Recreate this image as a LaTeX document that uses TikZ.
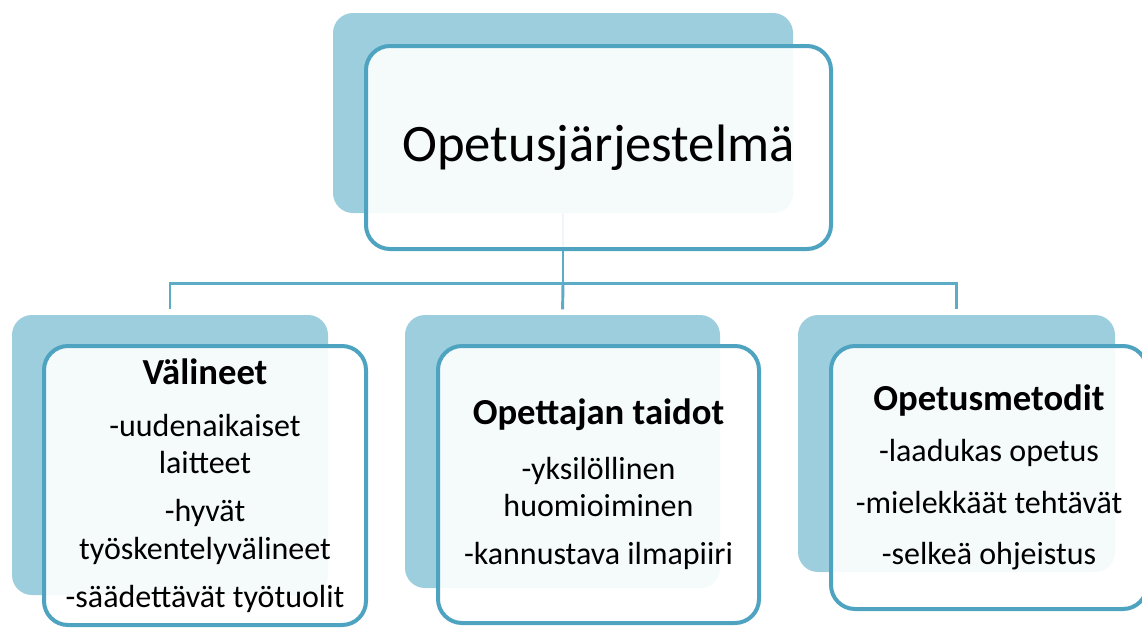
\documentclass[tikz,border=0pt]{standalone}
\usepackage{fontspec}
\setmainfont{Carlito}
\usepackage{tikz}

\definecolor{boxline}{RGB}{78,164,192}
\definecolor{boxshade}{RGB}{156,206,221}
\definecolor{linkline}{RGB}{92,172,200}

\tikzset{
    backbox/.style={rectangle, rounded corners=15pt, fill=boxshade, draw=none, inner sep=0pt},
    frontbox/.style={rectangle, rounded corners=18pt, draw=boxline, line width=3pt,
        fill=white, fill opacity=0.9, text opacity=1, align=center, inner sep=0pt},
    link/.style={draw=linkline, line width=2.2pt, shorten >=4pt},
    itemtext/.style={font=\fontsize{24}{28}\selectfont}
}
\newcommand{\boxtitle}[1]{{\fontsize{27.5}{28}\selectfont\bfseries #1}}

\begin{document}
\begin{tikzpicture}[x=0.75pt,y=-0.75pt]
    \useasboundingbox (0,0) rectangle (1142,628);

    % shadow boxes
    \node[backbox, minimum width=460*0.75pt, minimum height=200*0.75pt] (topback) at (563,113) {};
    \node[backbox, minimum width=316*0.75pt, minimum height=280*0.75pt] (leftback) at (170,455) {};
    \node[backbox, minimum width=315*0.75pt, minimum height=273*0.75pt] (midback) at (562.5,451.5) {};
    \node[backbox, minimum width=317*0.75pt, minimum height=257*0.75pt] (rightback) at (956.5,443.5) {};

    % connectors
    \draw[link, shorten >=0pt] (topback.south) -- ++(0,70) coordinate (bus);
    \draw[link] (bus) -| (leftback.north);
    \draw[link] (bus) -- (midback.north);
    \draw[link] (bus) -| (rightback.north);

    % front boxes
    \node[frontbox, minimum width=465*0.75pt, minimum height=203*0.75pt,
        font=\fontsize{39.5}{48}\selectfont] (top) at (598.5,147.5) {\raisebox{-2pt}{Opetusjärjestelmä}};
    \node[frontbox, itemtext, minimum width=322*0.75pt, minimum height=279*0.75pt] (left) at (205,485.5)
        {\boxtitle{Välineet}\\[11pt]-uudenaikaiset\\laitteet\\[8pt]-hyvät\\työskentelyvälineet\\[8pt]-säädettävät työtuolit};
    \node[frontbox, itemtext, minimum width=321*0.75pt, minimum height=277*0.75pt] (mid) at (598.5,484.5)
        {\boxtitle{Opettajan taidot}\\[13pt]-yksilöllinen\\huomioiminen\\[8pt]-kannustava ilmapiiri};
    \node[frontbox, itemtext, minimum width=316*0.75pt, minimum height=263*0.75pt] (right) at (989,477.5)
        {\boxtitle{Opetusmetodit}\\[10.5pt]-laadukas opetus\\[10.5pt]-mielekkäät tehtävät\\[10.5pt]-selkeä ohjeistus};

\end{tikzpicture}
\end{document}
